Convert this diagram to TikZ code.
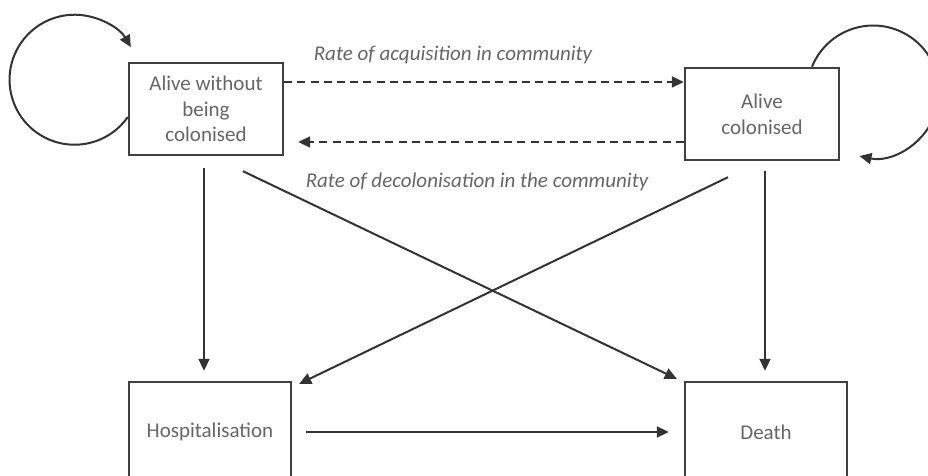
\documentclass[tikz,border=0pt]{standalone}
\usepackage{fontspec}
\setmainfont{Carlito}
\usetikzlibrary{arrows.meta}

\begin{document}
\begin{tikzpicture}[
	x=0.5pt, y=-0.5pt,
	>={Triangle[length=6pt,width=5.5pt]},
	box/.style={rectangle,draw=black!75,line width=1.2pt,text=black!60,align=center,font=\fontsize{10.5}{12.8}\selectfont},
	top box/.style={box,minimum width=77pt,minimum height=46pt},
	low box/.style={box,minimum width=81pt,minimum height=50pt},
	flow/.style={draw=black!80,line width=1pt,->},
	rate/.style={text=black!60,font=\fontsize{10.5}{12}\selectfont\itshape},
	]
\clip (0,0) rectangle (928,476);
\node (a) [top box] at (206,109) {Alive without\\being\\colonised};
\node (b) [top box] at (762,114) {Alive\\colonised};
\node (h) [low box] at (210,432) {Hospitalisation};
\node (d) [low box] at (766,432) {Death};
\node (acq) [rate] at (453,55) {Rate of acquisition in community};
\node (dec) [rate] at (477,182) {Rate of decolonisation in the community};
  % community transitions
  \draw[flow,dash pattern=on 4pt off 2.6pt] ([yshift=13.5pt]a.east) -- ([yshift=13.5pt]a.east -| b.west);
  \draw[flow,dash pattern=on 4pt off 2.6pt,shorten >=7pt] ([yshift=-14pt]b.west) -- ([yshift=-14pt]b.west -| a.east);
  % staying in the same state
  \draw[flow] ([yshift=-4pt]a.west) arc[start angle=-35,end angle=-330,radius=32.5pt];
  \draw[flow] ([xshift=25pt]b.north) arc[start angle=158,end angle=-102,radius=33pt];
  % towards hospital and death
  \draw[flow,shorten <=6pt,shorten >=5pt] ([xshift=-1pt]a.south) -- ([xshift=-1pt]a.south |- h.north);
  \draw[flow] ([xshift=18.5pt,yshift=-7.5pt]a.south) -- ([xshift=-3.5pt,yshift=1pt]d.north west);
  \draw[flow] ([xshift=-17pt,yshift=-8pt]b.south) -- ([xshift=3.5pt,yshift=-1.5pt]h.north east);
  \draw[flow,shorten <=5pt,shorten >=5pt] ([xshift=1.5pt]b.south) -- ([xshift=1.5pt]b.south |- d.north);
  \draw[flow,shorten <=7pt,shorten >=7.5pt] (h) -- (d);
\end{tikzpicture}
\end{document}
